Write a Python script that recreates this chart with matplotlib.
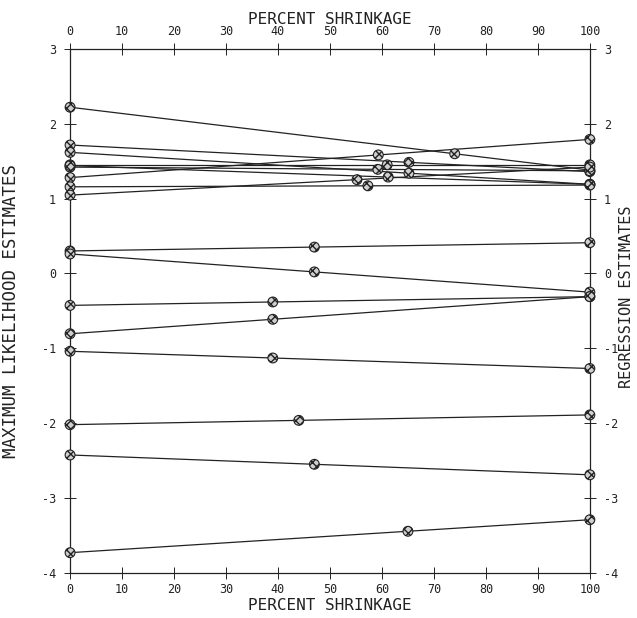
import matplotlib
matplotlib.use("Agg")
import matplotlib.pyplot as plt
import numpy as np

plt.rcParams["font.family"] = "DejaVu Sans Mono"
plt.rcParams["axes.unicode_minus"] = False

# maximum likelihood estimates (0 % shrinkage)
mle = [2.22, 1.28, 1.715, 1.617, 1.45, 1.42, 1.44, 1.157, 1.046,
       0.30, 0.26, -0.427, -0.806, -1.04, -2.02, -2.425, -3.73]
# regression estimates (100 % shrinkage)
reg = [1.38, 1.79, 1.36, 1.19, 1.45, 1.37, 1.19, 1.18, 1.42,
       0.41, -0.25, -0.31, -0.31, -1.27, -1.89, -2.69, -3.29]
# percent shrinkage of the intermediate point on each line
pct = [74, 59.3, 65.2, 65.2, 61, 59.2, 61.2, 57.3, 55.2,
       47, 47, 39, 39, 39, 44, 47, 65]

xticks = np.arange(0, 101, 10)
yticks = np.arange(-4, 4, 1)

fig = plt.figure(figsize=(6.37, 6.18), dpi=100)
ax = fig.add_axes([0.11, 0.073, 0.816, 0.848])

col = "#222222"
for l, r, p in zip(mle, reg, pct):
    mid = l + (r - l) * p / 100.0
    ax.plot([0, 100], [l, r], color=col, lw=0.9, zorder=2)
    ax.scatter([0, p, 100], [l, mid, r], s=50, facecolor="#cfcfcf",
               edgecolor=col, hatch="xxxx", linewidth=0.8, zorder=3,
               clip_on=False)

ax.set_xlim(0, 100)
ax.set_ylim(-4, 3)
ax.set_xticks(xticks)
ax.set_yticks(yticks)
ax.tick_params(direction="inout", length=8, width=0.7, labelsize=8.5, colors=col,
               top=True, right=True, labeltop=True, labelright=True)
ax.tick_params(axis="y", pad=6)
for s in ax.spines.values():
    s.set_linewidth(0.9)
    s.set_color(col)

ax.set_xlabel("PERCENT SHRINKAGE", fontsize=11.5, color=col, labelpad=1)
ax.set_ylabel("MAXIMUM LIKELIHOOD ESTIMATES", fontsize=12.5, color=col, labelpad=16)
top = ax.secondary_xaxis("top")
top.set_xticks([])
top.set_xlabel("PERCENT SHRINKAGE", fontsize=11.5, color=col, labelpad=18)
top.spines["top"].set_visible(False)
fig.text(0.984, 0.52, "REGRESSION ESTIMATES", rotation=90, fontsize=11,
         color=col, ha="center", va="center")

fig.savefig("out.png", dpi=100)
